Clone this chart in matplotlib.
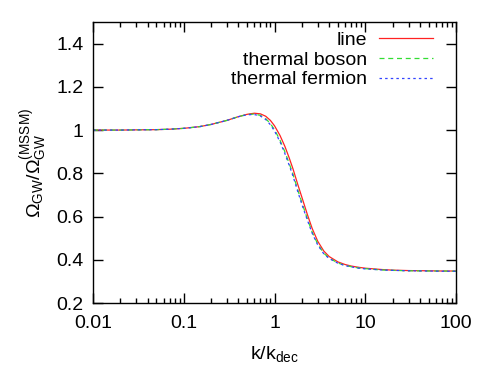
import numpy as np
import matplotlib
matplotlib.use("Agg")
import matplotlib.pyplot as plt
from matplotlib.ticker import LogLocator, FixedLocator, NullFormatter

plt.rcParams['font.family'] = ['Liberation Sans', 'DejaVu Sans']
plt.rcParams['mathtext.fontset'] = 'custom'
plt.rcParams['mathtext.rm'] = 'Liberation Sans'
plt.rcParams['mathtext.it'] = 'Liberation Sans'

# k / k_dec sample points
k = [0.01, 0.02, 0.03, 0.05, 0.07, 0.1, 0.15, 0.2, 0.3, 0.4, 0.5, 0.6, 0.7,
     0.8, 0.9, 1.0, 1.15, 1.3, 1.45, 1.6, 1.8, 2.0, 2.3, 2.6, 3.0, 3.5, 4.0,
     5.0, 6.0, 7.0, 8.5, 10, 15, 20, 30, 50, 70, 100]

# Omega_GW / Omega_GW^(MSSM)
line = [1.000, 1.000, 1.001, 1.002, 1.004, 1.008, 1.016, 1.026, 1.045, 1.062,
        1.073, 1.078, 1.075, 1.064, 1.045, 1.020, 0.975, 0.925, 0.872, 0.820,
        0.750, 0.690, 0.610, 0.545, 0.485, 0.440, 0.415, 0.390, 0.378, 0.371,
        0.365, 0.361, 0.355, 0.352, 0.350, 0.349, 0.348, 0.348]
boson = [1.000, 1.000, 1.001, 1.002, 1.004, 1.008, 1.016, 1.026, 1.045, 1.062,
         1.072, 1.074, 1.068, 1.053, 1.030, 1.002, 0.953, 0.900, 0.846, 0.795,
         0.725, 0.665, 0.590, 0.528, 0.472, 0.430, 0.408, 0.385, 0.374, 0.368,
         0.362, 0.359, 0.353, 0.351, 0.349, 0.348, 0.348, 0.347]
fermion = [1.000, 1.000, 1.001, 1.002, 1.004, 1.008, 1.016, 1.026, 1.045, 1.062,
           1.071, 1.072, 1.065, 1.049, 1.025, 0.996, 0.946, 0.892, 0.838, 0.787,
           0.717, 0.657, 0.584, 0.523, 0.468, 0.427, 0.406, 0.384, 0.373, 0.367,
           0.361, 0.358, 0.353, 0.351, 0.349, 0.348, 0.347, 0.347]

xticks = [0.01, 0.1, 1, 10, 100]
xticklabels = ['0.01', '0.1', '1', '10', '100']
yticks = [0.2, 0.4, 0.6, 0.8, 1.0, 1.2, 1.4]
yticklabels = ['0.2', '0.4', '0.6', '0.8', '1', '1.2', '1.4']

FS = 14

fig = plt.figure(figsize=(4.91, 3.84), dpi=100)
ax = fig.add_axes([93 / 491, 1 - 303 / 384, (456 - 93) / 491, (303 - 22) / 384])

ax.plot(k, line, color='#ff2222', lw=0.9, label='line')
ax.plot(k, boson, color='#33dd33', lw=0.9, dashes=(4, 3), label='thermal boson')
ax.plot(k, fermion, color='#3344ff', lw=0.9, dashes=(2, 2.5), label='thermal fermion')

ax.set_xscale('log')
ax.set_xlim(0.01, 100)
ax.set_ylim(0.2, 1.5)
ax.set_xticks(xticks)
ax.set_xticklabels(xticklabels)
ax.xaxis.set_minor_locator(LogLocator(base=10, subs=np.arange(2, 10)))
ax.xaxis.set_minor_formatter(NullFormatter())
ax.yaxis.set_major_locator(FixedLocator(yticks))
ax.set_yticklabels(yticklabels)

ax.tick_params(which='both', direction='in', top=True, right=True,
               labelsize=FS, width=1.0, colors='black')
ax.tick_params(which='major', length=7)
ax.tick_params(which='minor', length=3.5)
ax.tick_params(axis='y', which='major', pad=7)
ax.tick_params(axis='x', which='major', pad=9)
for s in ax.spines.values():
    s.set_linewidth(1.0)

ax.set_xlabel(r'k/k$_{\mathrm{dec}}$', fontsize=FS, labelpad=8)
ax.set_ylabel(r'$\Omega_{\mathrm{GW}}/\Omega_{\mathrm{GW}}^{\mathrm{(MSSM)}}$',
              fontsize=FS, labelpad=4)

leg = ax.legend(loc='upper right', frameon=False, fontsize=FS, markerfirst=False,
                handlelength=2.8, handletextpad=0.6, labelspacing=0.12,
                borderpad=0, borderaxespad=0, bbox_to_anchor=(0.937, 0.968))
for t in leg.get_texts():
    t.set_ha('right')

fig.savefig('out.png', dpi=100)
